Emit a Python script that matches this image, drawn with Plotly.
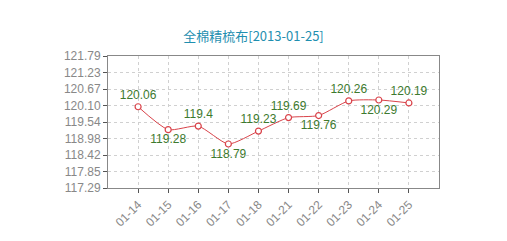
import plotly.graph_objects as go

# Daily price series for combed cotton cloth
dates = ["01-14", "01-15", "01-16", "01-17", "01-18", "01-21", "01-22", "01-23", "01-24", "01-25"]
prices = [120.06, 119.28, 119.4, 118.79, 119.23, 119.69, 119.76, 120.26, 120.29, 120.19]
label_pos = ["top center", "bottom center", "top center", "bottom center", "top center",
             "top center", "bottom center", "top center", "bottom center", "top center"]
y_tick_labels = ["117.29", "117.85", "118.42", "118.98", "119.54", "120.10", "120.67", "121.23", "121.79"]

y_min, y_max = 117.29, 121.79
step = (y_max - y_min) / (len(y_tick_labels) - 1)
y_tick_vals = [y_min + i * step for i in range(len(y_tick_labels))]

fig = go.Figure(
    go.Scatter(
        x=dates,
        y=prices,
        mode="lines+markers+text",
        line=dict(color="#d9434a", width=1, shape="spline", smoothing=0.6),
        marker=dict(size=6, color="white", line=dict(color="#d9434a", width=1.2)),
        text=[f"{v:g}" for v in prices],
        textposition=label_pos,
        textfont=dict(family="Liberation Sans, Arial, sans-serif", size=12, color="#3d7a2e"),
        cliponaxis=False,
        hoverinfo="x+y",
    )
)

axis_font = dict(family="Liberation Sans, Arial, sans-serif", size=12, color="#888888")

fig.update_layout(
    width=507,
    height=241,
    margin=dict(l=108, r=68, t=56, b=39),
    paper_bgcolor="white",
    plot_bgcolor="white",
    showlegend=False,
    title=dict(
        text="全棉精梳布[2013-01-25]",
        x=0.5,
        xanchor="center",
        y=1 - 36 / 241,
        yanchor="middle",
        font=dict(family="Noto Sans CJK SC", size=13, color="#1f8fb0"),
    ),
    xaxis=dict(
        type="category",
        range=[-1, len(dates)],
        tickangle=-45,
        tickfont=axis_font,
        ticks="outside",
        ticklen=4,
        tickcolor="#555555",
        showline=True,
        linecolor="#888888",
        linewidth=1,
        mirror=True,
        showgrid=True,
        gridcolor="#d0d0d0",
        griddash="dot",
        gridwidth=1,
        zeroline=False,
    ),
    yaxis=dict(
        range=[y_min, y_max],
        tickvals=y_tick_vals,
        ticktext=y_tick_labels,
        tickfont=axis_font,
        ticks="outside",
        ticklen=4,
        tickcolor="#555555",
        showline=True,
        linecolor="#888888",
        linewidth=1,
        mirror=True,
        showgrid=True,
        gridcolor="#d0d0d0",
        griddash="dot",
        gridwidth=1,
        zeroline=False,
    ),
)

fig.write_html("out.html")
